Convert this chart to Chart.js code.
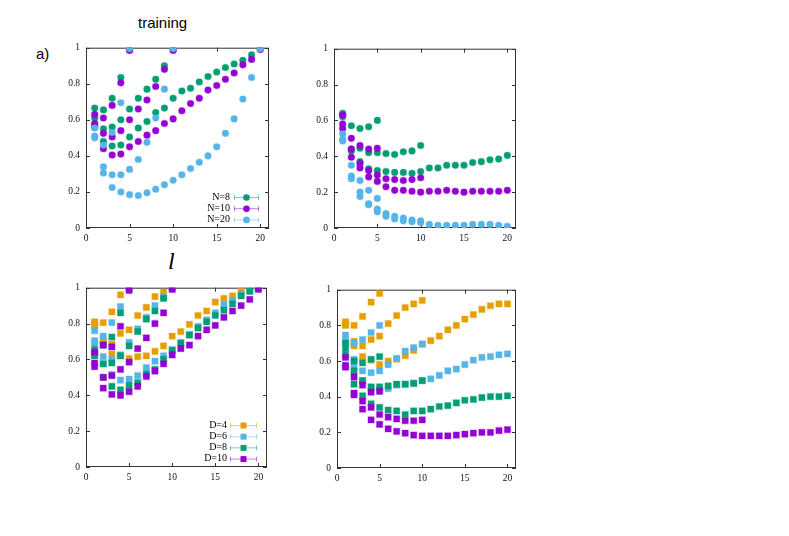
<!DOCTYPE html>
<html lang="en">
<head>
<meta charset="UTF-8" />
<title>training</title>
<script src="https://cdn.jsdelivr.net/npm/chart.js"></script>
<style>
  body {
    margin: 0;
    background: #fff;
    width: 789px;
    height: 536px;
    position: relative;
    overflow: hidden;
    font-family: "Liberation Sans", Arial, sans-serif;
  }
  canvas { position: absolute; }
  .txt { position: absolute; white-space: nowrap; line-height: 1; color: #000; }
</style>
</head>
<body>
<div class="txt" style="left:138px; top:15px; font-size:15px;">training</div>
<div class="txt" style="left:36px; top:46px; font-size:15px;">a)</div>
<div class="txt" style="left:168px; top:249px; font-size:24px; font-family:'Liberation Serif', serif; font-style:italic;">l</div>

<canvas id="panelA"></canvas>
<canvas id="panelB"></canvas>
<canvas id="panelC"></canvas>
<canvas id="panelD"></canvas>

<script>
// x positions (layer index l) and axis ticks
const steps = [1, 2, 3, 4, 5, 6, 7, 8, 9, 10, 11, 12, 13, 14, 15, 16, 17, 18, 19, 20];
const xTicks = [0, 5, 10, 15, 20];
const yTicks = [0, 0.2, 0.4, 0.6, 0.8, 1];

// top left (training), one curve per length 5 / 10 / 20
const trainN8 = [
  [0.665, 0.655, 0.72, 0.835, 0.99],
  [0.61, 0.55, 0.56, 0.6, 0.66, 0.72, 0.77, 0.825, 0.9, 0.99],
  [0.57, 0.48, 0.455, 0.46, 0.505, 0.555, 0.59, 0.64, 0.665, 0.72, 0.76, 0.775, 0.81, 0.84, 0.865, 0.89, 0.91, 0.93, 0.96, 0.995]
];
const trainN10 = [
  [0.63, 0.61, 0.68, 0.805, 0.985],
  [0.58, 0.525, 0.505, 0.54, 0.6, 0.66, 0.71, 0.785, 0.88, 0.985],
  [0.56, 0.44, 0.405, 0.41, 0.45, 0.48, 0.515, 0.54, 0.58, 0.605, 0.65, 0.69, 0.72, 0.765, 0.79, 0.825, 0.86, 0.905, 0.935, 0.99]
];
const trainN20 = [
  [0.555, 0.46, 0.53, 0.695, 0.995],
  [0.51, 0.34, 0.295, 0.295, 0.325, 0.38, 0.475, 0.61, 0.77, 0.995],
  [0.5, 0.305, 0.225, 0.2, 0.185, 0.18, 0.195, 0.215, 0.24, 0.265, 0.295, 0.33, 0.365, 0.4, 0.45, 0.525, 0.605, 0.715, 0.835, 0.995]
];

// top right
const rightN8 = [
  [0.64, 0.57, 0.555, 0.565, 0.6],
  [0.63, 0.44, 0.445, 0.42, 0.42, 0.415, 0.41, 0.425, 0.43, 0.46],
  [0.62, 0.43, 0.37, 0.33, 0.32, 0.315, 0.31, 0.31, 0.305, 0.315, 0.335, 0.335, 0.35, 0.35, 0.35, 0.365, 0.37, 0.38, 0.385, 0.405]
];
const rightN10 = [
  [0.63, 0.5, 0.46, 0.44, 0.445],
  [0.58, 0.44, 0.36, 0.32, 0.295, 0.275, 0.27, 0.265, 0.27, 0.28],
  [0.555, 0.395, 0.335, 0.285, 0.26, 0.23, 0.21, 0.21, 0.205, 0.2, 0.205, 0.205, 0.21, 0.205, 0.2, 0.205, 0.205, 0.205, 0.205, 0.21]
];
const rightN20 = [
  [0.525, 0.35, 0.265, 0.21, 0.165],
  [0.495, 0.29, 0.2, 0.135, 0.105, 0.08, 0.065, 0.055, 0.045, 0.04],
  [0.485, 0.275, 0.175, 0.13, 0.09, 0.065, 0.05, 0.04, 0.035, 0.03, 0.02, 0.015, 0.015, 0.015, 0.015, 0.02, 0.02, 0.02, 0.015, 0.01]
];

// bottom left, one curve per length 5 / 10 / 20
const trainD4 = [
  [0.81, 0.805, 0.865, 0.96, 1.0],
  [0.8, 0.71, 0.685, 0.745, 0.765, 0.845, 0.89, 0.95, 0.975, 1.0],
  [0.79, 0.69, 0.63, 0.62, 0.605, 0.615, 0.62, 0.645, 0.675, 0.73, 0.755, 0.795, 0.845, 0.87, 0.92, 0.94, 0.955, 0.985, 1.0, 1.0]
];
const trainD6 = [
  [0.76, 0.73, 0.805, 0.895, 1.0],
  [0.705, 0.615, 0.6, 0.625, 0.695, 0.77, 0.835, 0.9, 0.95, 1.0],
  [0.69, 0.575, 0.515, 0.485, 0.49, 0.51, 0.555, 0.59, 0.62, 0.655, 0.695, 0.74, 0.785, 0.82, 0.86, 0.905, 0.93, 0.965, 0.985, 1.0]
];
const trainD8 = [
  [0.655, 0.68, 0.725, 0.86, 1.0],
  [0.63, 0.575, 0.58, 0.62, 0.675, 0.755, 0.825, 0.87, 0.94, 1.0],
  [0.62, 0.5, 0.45, 0.43, 0.455, 0.47, 0.52, 0.545, 0.6, 0.65, 0.69, 0.735, 0.775, 0.81, 0.845, 0.875, 0.91, 0.955, 0.98, 1.0]
];
const trainD10 = [
  [0.64, 0.68, 0.67, 0.785, 0.985],
  [0.58, 0.5, 0.51, 0.545, 0.585, 0.66, 0.72, 0.8, 0.86, 0.99],
  [0.56, 0.44, 0.405, 0.4, 0.42, 0.45, 0.505, 0.535, 0.575, 0.625, 0.66, 0.68, 0.73, 0.765, 0.79, 0.835, 0.87, 0.9, 0.935, 0.99]
];

// bottom right
const rightD4 = [
  [0.82, 0.8, 0.85, 0.93, 0.98],
  [0.805, 0.71, 0.685, 0.72, 0.74, 0.81, 0.855, 0.9, 0.92, 0.94],
  [0.8, 0.685, 0.625, 0.605, 0.58, 0.6, 0.61, 0.63, 0.66, 0.695, 0.715, 0.74, 0.775, 0.8, 0.835, 0.86, 0.89, 0.91, 0.92, 0.92]
];
const rightD6 = [
  [0.745, 0.7, 0.72, 0.76, 0.8],
  [0.72, 0.61, 0.545, 0.535, 0.545, 0.58, 0.615, 0.655, 0.675, 0.695],
  [0.7, 0.565, 0.49, 0.45, 0.44, 0.445, 0.465, 0.47, 0.475, 0.49, 0.5, 0.52, 0.545, 0.555, 0.58, 0.605, 0.62, 0.625, 0.635, 0.64]
];
const rightD8 = [
  [0.7, 0.6, 0.59, 0.61, 0.625],
  [0.67, 0.545, 0.49, 0.455, 0.455, 0.46, 0.47, 0.47, 0.475, 0.49],
  [0.635, 0.47, 0.405, 0.36, 0.34, 0.325, 0.32, 0.3, 0.32, 0.32, 0.33, 0.345, 0.35, 0.365, 0.38, 0.385, 0.395, 0.4, 0.4, 0.405]
];
const rightD10 = [
  [0.62, 0.51, 0.465, 0.425, 0.43],
  [0.575, 0.42, 0.375, 0.34, 0.3, 0.285, 0.275, 0.265, 0.265, 0.27],
  [0.565, 0.41, 0.33, 0.27, 0.245, 0.22, 0.205, 0.195, 0.185, 0.18, 0.18, 0.18, 0.18, 0.185, 0.19, 0.195, 0.2, 0.2, 0.21, 0.215]
];

const nLabels = ["N=8", "N=10", "N=20"];
const dLabels = ["D=4", "D=6", "D=8", "D=10"];

const GREEN = "#009e73", PURPLE = "#9400d3", BLUE = "#56b4e9", ORANGE = "#e69f00";
const SERIF = "'Liberation Serif', 'Times New Roman', serif";

function fade(hex, a) {
  var r = parseInt(hex.slice(1, 3), 16), g = parseInt(hex.slice(3, 5), 16), b = parseInt(hex.slice(5, 7), 16);
  return "rgba(" + r + "," + g + "," + b + "," + a + ")";
}

// box frame with inward ticks on all four sides
const framePlugin = {
  id: "frame",
  beforeDatasetsDraw(chart) {
    var a = chart.chartArea, ctx = chart.ctx;
    var xs = chart.scales.x, ys = chart.scales.y;
    ctx.save();
    ctx.strokeStyle = "#333";
    ctx.lineWidth = 1;
    ctx.strokeRect(a.left + 0.5, a.top + 0.5, a.right - a.left - 1, a.bottom - a.top - 1);
    ctx.beginPath();
    xTicks.forEach(function (v) {
      var px = Math.round(xs.getPixelForValue(v)) + 0.5;
      ctx.moveTo(px, a.bottom); ctx.lineTo(px, a.bottom - 4);
      ctx.moveTo(px, a.top); ctx.lineTo(px, a.top + 4);
    });
    yTicks.forEach(function (v) {
      var py = Math.round(ys.getPixelForValue(v)) + 0.5;
      ctx.moveTo(a.left, py); ctx.lineTo(a.left + 4, py);
      ctx.moveTo(a.right, py); ctx.lineTo(a.right - 4, py);
    });
    ctx.stroke();
    ctx.restore();
  }
};

// gnuplot style key: label, then errorbar sample with marker
const keyPlugin = {
  id: "key",
  afterDatasetsDraw(chart, args, opts) {
    if (!opts.items) return;
    var ctx = chart.ctx;
    ctx.save();
    ctx.font = "10px " + SERIF;
    ctx.textAlign = "right";
    ctx.textBaseline = "middle";
    opts.items.forEach(function (it, i) {
      var y = opts.y + i * opts.dy;
      ctx.fillStyle = "#000";
      ctx.fillText(it.text, opts.x, y);
      ctx.strokeStyle = fade(it.color, 0.5);
      ctx.lineWidth = 1;
      ctx.beginPath();
      ctx.moveTo(opts.x0, y + 0.5); ctx.lineTo(opts.x1, y + 0.5);
      ctx.moveTo(opts.x0 + 0.5, y - 2); ctx.lineTo(opts.x0 + 0.5, y + 3);
      ctx.moveTo(opts.x1 - 0.5, y - 2); ctx.lineTo(opts.x1 - 0.5, y + 3);
      ctx.stroke();
      ctx.fillStyle = it.color;
      var mx = (opts.x0 + opts.x1) / 2;
      ctx.beginPath();
      if (opts.square) ctx.rect(mx - 3, y - 2.5, 6, 6);
      else ctx.arc(mx, y + 0.5, 3.3, 0, Math.PI * 2);
      ctx.fill();
    });
    ctx.restore();
  }
};

function buildDatasets(groups, colors, square) {
  var out = [];
  groups.forEach(function (g, gi) {
    g.forEach(function (vals) {
      out.push({
        data: vals.map(function (v, i) { return { x: steps[i], y: v }; }),
        backgroundColor: colors[gi],
        borderColor: fade(colors[gi], 0.3),
        borderWidth: 1.2,
        pointStyle: square ? "rect" : "circle",
        pointRadius: square ? 4.4 : 3.3,
        showLine: false
      });
    });
  });
  // first dataset is painted last, so the last group ends up on top
  return out.reverse();
}

// box = chart area in page pixels
function makePanel(id, box, groups, colors, square, key) {
  var padL = 45, padT = 10, padR = 10, padB = 25;
  var cv = document.getElementById(id);
  cv.width = box.r - box.l + padL + padR;
  cv.height = box.b - box.t + padT + padB;
  cv.style.left = (box.l - padL) + "px";
  cv.style.top = (box.t - padT) + "px";
  var keyOpts = {};
  if (key) {
    keyOpts = {
      items: key.labels.map(function (t, i) { return { text: t, color: colors[i] }; }),
      x: key.x - box.l + padL, x0: key.x0 - box.l + padL, x1: key.x1 - box.l + padL,
      y: key.y - box.t + padT, dy: key.dy, square: square
    };
  }
  var tickFont = { family: SERIF, size: 9.5 };
  return new Chart(cv, {
    type: "scatter",
    data: { datasets: buildDatasets(groups, colors, square) },
    options: {
      responsive: false,
      animation: false,
      devicePixelRatio: 1,
      layout: { padding: { top: padT, right: padR, left: 0, bottom: 0 } },
      plugins: { legend: { display: false }, tooltip: { enabled: false }, key: keyOpts },
      scales: {
        x: {
          type: "linear", min: 0, max: 21,
          grid: { display: false, drawTicks: false },
          border: { display: false },
          afterBuildTicks: function (s) { s.ticks = xTicks.map(function (v) { return { value: v }; }); },
          afterFit: function (s) { s.height = padB; },
          ticks: { font: tickFont, color: "#111", padding: 5, maxRotation: 0,
            callback: function (v) { return String(v); } }
        },
        y: {
          type: "linear", min: 0, max: 1,
          grid: { display: false, drawTicks: false },
          border: { display: false },
          afterBuildTicks: function (s) { s.ticks = yTicks.map(function (v) { return { value: v }; }); },
          afterFit: function (s) { s.width = padL; },
          ticks: { font: tickFont, color: "#111", padding: 6,
            callback: function (v) { return String(Math.round(v * 10) / 10); } }
        }
      }
    },
    plugins: [framePlugin, keyPlugin]
  });
}

makePanel("panelA", { l: 86, t: 46, r: 269, b: 228 },
  [trainN8, trainN10, trainN20], [GREEN, PURPLE, BLUE], false,
  { labels: nLabels, x: 230, x0: 234, x1: 259, y: 197, dy: 11.2 });
makePanel("panelB", { l: 334, t: 47, r: 516, b: 228 },
  [rightN8, rightN10, rightN20], [GREEN, PURPLE, BLUE], false, null);
makePanel("panelC", { l: 86, t: 286, r: 267, b: 467 },
  [trainD4, trainD6, trainD8, trainD10], [ORANGE, BLUE, GREEN, PURPLE], true,
  { labels: dLabels, x: 227, x0: 230, x1: 257, y: 425, dy: 11.2 });
makePanel("panelD", { l: 337, t: 288, r: 516, b: 468 },
  [rightD4, rightD6, rightD8, rightD10], [ORANGE, BLUE, GREEN, PURPLE], true, null);
</script>
</body>
</html>
